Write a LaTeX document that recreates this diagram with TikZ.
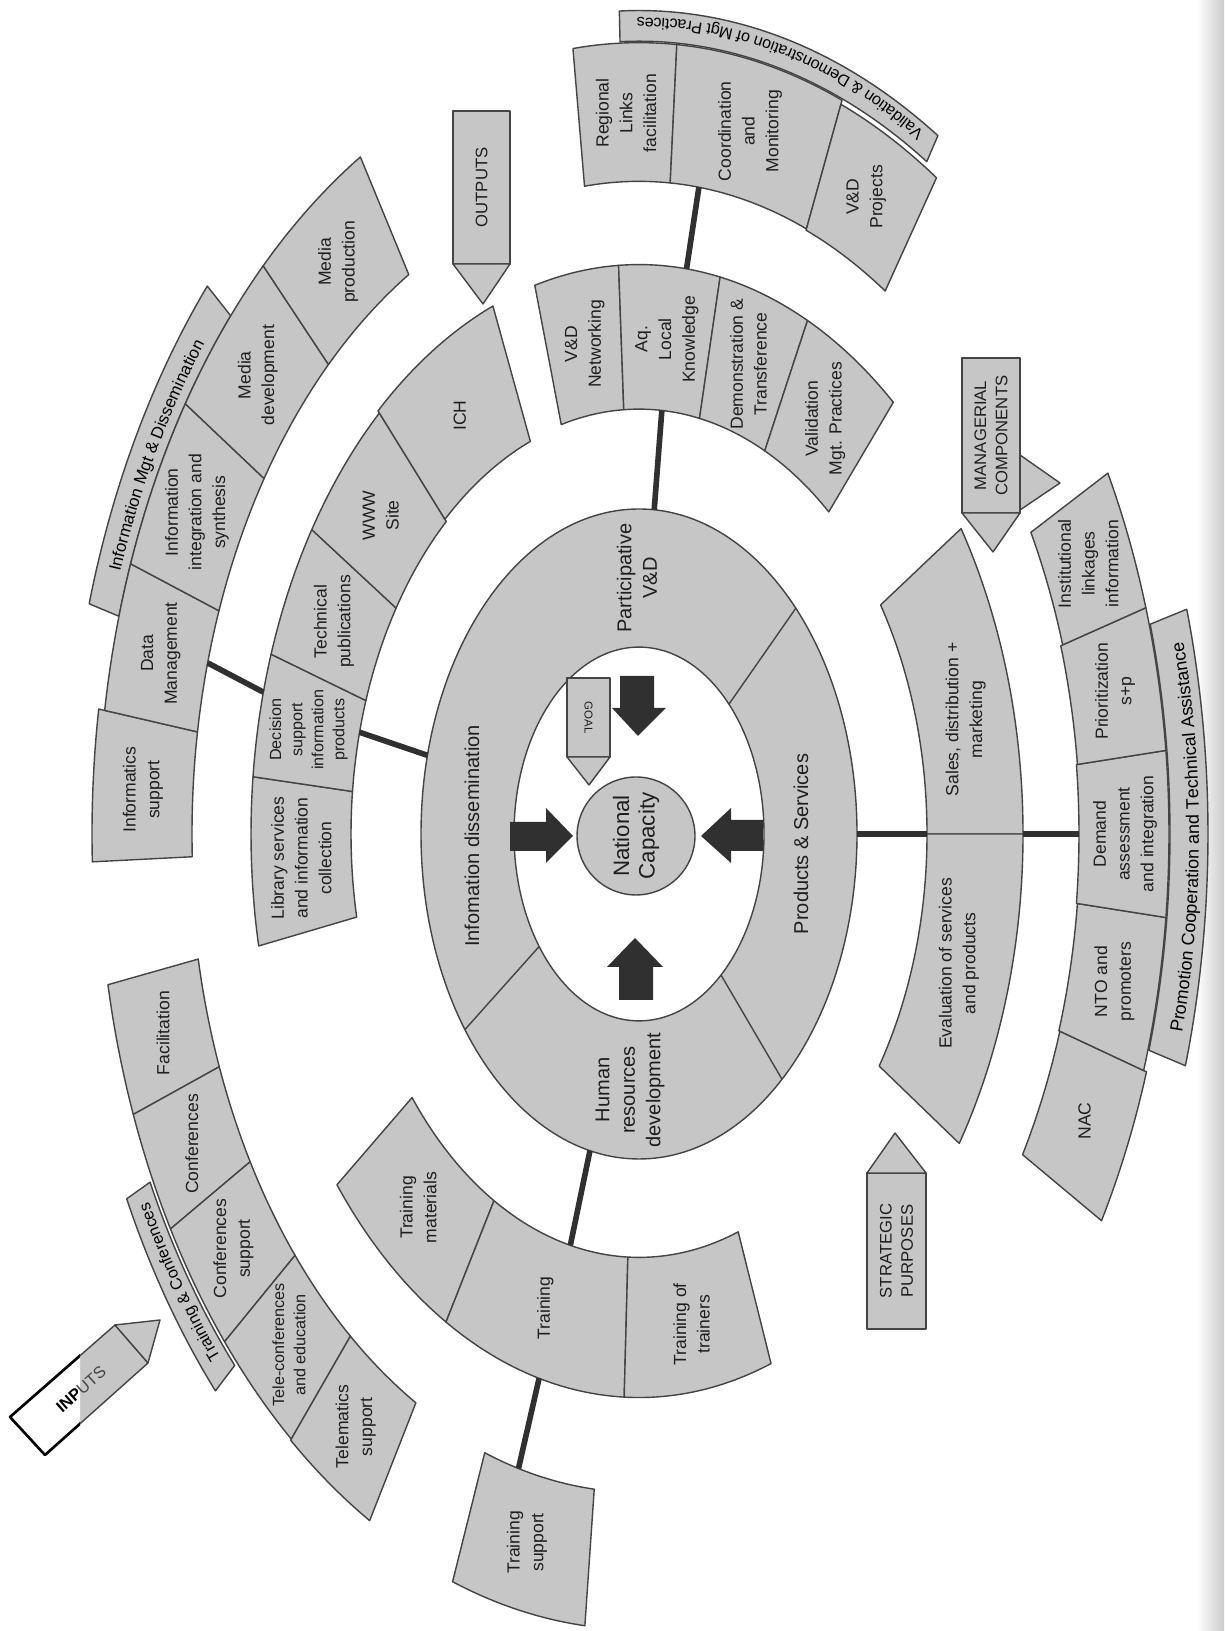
\documentclass[tikz,border=0pt]{standalone}
\usepackage{fontspec}
\setmainfont{Liberation Sans}
\usetikzlibrary{decorations.text}
\definecolor{boxfill}{HTML}{C6C6C6}
\definecolor{edgecol}{HTML}{444444}
\definecolor{darkcol}{HTML}{303030}
\definecolor{txtcol}{HTML}{1E1E1E}
\newcommand\annsector[4]{\draw[seg] (#1:#3) arc[start angle=#1,end angle=#2,radius=#3] -- (#2:#4) arc[start angle=#2,end angle=#1,radius=#4] -- cycle;}
\newcommand\striptext[5]{\path[decorate,decoration={text along path,text align=center,text={|\fontsize{#4}{#4}\selectfont|#5}}] ({639+#3*cos(#1)},{797+1.46*#3*sin(#1)}) arc[start angle=#1,end angle=#2,x radius=#3,y radius={1.46*#3}];}
\begin{document}
\begin{tikzpicture}[x=0.02cm,y=0.02cm,
  seg/.style={fill=boxfill,draw=edgecol,line width=0.8pt,line join=round},
  lbl/.style={rotate=90,align=center,text=txtcol,inner sep=0pt,font=\fontsize{10}{13.5}\selectfont},
  smalllbl/.style={font=\fontsize{9.2}{12}\selectfont},
  ringlbl/.style={rotate=90,align=center,text=txtcol,inner sep=0pt,font=\fontsize{11.4}{14.5}\selectfont},
  caplbl/.style={rotate=90,align=center,text=txtcol,inner sep=0pt,font=\fontsize{9.5}{12}\selectfont},
  link/.style={draw=darkcol,line width=3.2pt},
  blockarrow/.style={fill=darkcol}]
\useasboundingbox (0,0) rectangle (1224,1631);
\fill[white] (0,0) rectangle (1224,1631);
\shade[left color=white,right color=black!20] (1196,0) rectangle (1224,1631);

\begin{scope}[shift={(639,797)},yscale=1.46]
  % central ring
  \fill[boxfill,even odd rule] (0,0) ellipse[x radius=218,y radius=222.6] (0,0) ellipse[x radius=125,y radius=128];
  \draw[edgecol,line width=0.8pt] (0,0) ellipse[x radius=218,y radius=222.6] (0,0) ellipse[x radius=125,y radius=128];
  \foreach \ang in {217,311,44}{\draw[edgecol,line width=0.8pt] ({125*cos(\ang)},{128*sin(\ang)}) -- ({218*cos(\ang)},{222.6*sin(\ang)});}

  % label strips
  \annsector{139}{164}{541}{572}
  \annsector{58}{92}{543}{564}
  \annsector{206}{222}{544}{570}
  \annsector{-16.2}{15.7}{531}{569}

  % group A: information management
  \annsector{171}{182}{447}{547}
  \annsector{160}{171}{447}{541}
  \annsector{147}{160}{447}{541}
  \annsector{134}{147}{447}{541}
  \annsector{121}{134}{447}{541}
  \node[lbl] (infsup) at (176.5:497) {Informatics\\support};
  \node[lbl] (datamg) at (165.5:494) {Data\\Management};
  \node[lbl] (infint) at (153.5:494) {Information\\integration and\\synthesis};
  \node[lbl] (meddev) at (140.5:494) {Media\\development};
  \node[lbl] (medprod) at (127.5:494) {Media\\production};

  % group B: information dissemination
  \annsector{174.2}{191.4}{288}{388}
  \annsector{161.5}{174.2}{288}{388}
  \annsector{147.5}{161.5}{288}{388}
  \annsector{132}{147.5}{288}{388}
  \annsector{112}{132}{290}{390}
  \node[lbl] (library) at (182.8:338) {Library services\\and information\\collection};
  \node[lbl,smalllbl] (decision) at (167.8:338) {Decision\\support\\information\\products};
  \node[lbl] (techpub) at (154.5:338) {Technical\\publications};
  \node[lbl] (www) at (139.8:338) {WWW\\Site};
  \node[lbl] (ich) at (122:338) {ICH};

  % group C: participative V&D
  \annsector{93}{105.5}{291}{390}
  \annsector{78}{93}{291}{390}
  \annsector{64.4}{78}{291}{390}
  \annsector{49.3}{64.4}{291}{390}
  \node[lbl] (vdnet) at (99.2:340) {V\&D\\Networking};
  \node[lbl] (aqlocal) at (85.3:340) {Aq.\\Local\\Knowledge};
  \node[lbl] (demo) at (71.2:340) {Demonstration \&\\Transference};
  \node[lbl] (valid) at (56.8:340) {Validation\\Mgt. Practices};

  % group D
  \annsector{86}{97}{447}{542}
  \annsector{68}{86}{447}{542}
  \annsector{56.5}{68}{446}{539}
  \node[lbl] (regional) at (91.5:494) {Regional\\Links\\facilitation};
  \node[lbl] (coord) at (77:494) {Coordination\\and\\Monitoring};
  \node[lbl] (vdproj) at (62.5:492) {V\&D\\Projects};

  % group E: training & conferences
  \annsector{191}{200.8}{449}{541}
  \annsector{200.8}{210}{449}{541}
  \annsector{210}{220}{449}{541}
  \annsector{220}{230}{449}{541}
  \annsector{230}{240.2}{449}{542}
  \node[lbl] (facil) at (196:495) {Facilitation};
  \node[lbl] (conf) at (205.4:495) {Conferences};
  \node[lbl] (confsup) at (215:495) {Conferences\\support};
  \node[lbl,smalllbl] (telecon) at (225:495) {Tele-conferences\\and education};
  \node[lbl] (telemat) at (235.1:495) {Telematics\\support};

  % group F: products & services
  \annsector{0}{33}{288}{384}
  \annsector{-33.5}{0}{288}{384}
  \node[lbl] (sales) at (13.5:336) {Sales, distribution +\\marketing};
  \node[lbl] (evalsp) at (-15.5:332) {Evaluation of services\\and products};

  % group H: promotion
  \annsector{-29.8}{-17.8}{442}{533}
  \annsector{-17.8}{-6.2}{441}{530}
  \annsector{-6.2}{6.2}{440}{530}
  \annsector{6.2}{17}{441}{530}
  \annsector{17}{27.8}{443}{530}
  \node[lbl] (nac) at (-23.8:487) {NAC};
  \node[lbl] (nto) at (-12:486) {NTO and\\promoters};
  \node[lbl] (demand) at (0:486) {Demand\\assessment\\and integration};
  \node[lbl] (prior) at (11.6:486) {Prioritization\\s+p};
  \node[lbl] (instit) at (22.4:486) {Institutional\\linkages\\information};

  % group I: training
  \annsector{218.5}{240}{290}{386}
  \annsector{240}{267.8}{290}{386}
  \annsector{267.8}{290}{290}{386}
  \node[lbl] (trmat) at (229.2:338) {Training\\materials};
  \node[lbl] (training) at (253.9:338) {Training};
  \node[lbl] (trtrain) at (278.9:340) {Training of\\trainers};

  % group J
  \annsector{250}{264.3}{451}{545}
  \node[lbl] (trsup) at (257:498) {Training\\support};

  % connector end points
  \coordinate (rW) at ({218*cos(166)},{222.6*sin(166)});
  \coordinate (bIn) at (166:288);
  \coordinate (bOut) at (165.5:388);
  \coordinate (aIn) at (164.8:447);
  \coordinate (rN) at ({218*cos(86)},{222.6*sin(86)});
  \coordinate (cIn) at (85.5:291);
  \coordinate (cOut) at (83:390);
  \coordinate (dIn) at (82.3:447);
  \coordinate (rE) at (218,0);
  \coordinate (fIn) at (288,0);
  \coordinate (fOut) at (384,0);
  \coordinate (hIn) at (440,0);
  \coordinate (rS) at ({218*cos(257)},{222.6*sin(257)});
  \coordinate (iIn) at (256.3:290);
  \coordinate (iOut) at (255:386);
  \coordinate (jIn) at (254.5:451);
\end{scope}

% connectors
\draw[link] (rW) -- (bIn);
\draw[link] (bOut) -- (aIn);
\draw[link] (rN) -- (cIn);
\draw[link] (cOut) -- (dIn);
\draw[link] (rE) -- (fIn);
\draw[link] (fOut) -- (hIn);
\draw[link] (rS) -- (iIn);
\draw[link] (iOut) -- (jIn);

% strip texts
\striptext{163}{140}{549}{9.6}{Information Mgt {\&} Dissemination}
\striptext{56}{94}{559}{9.2}{Validation {\&} Demonstration of Mgt Practices}
\striptext{223}{205}{551}{9.3}{Training {\&} Conferences}
\striptext{-15.5}{15}{560}{10.2}{Promotion Cooperation and Technical Assistance}

% ring labels
\node[ringlbl] (infodis) at (472,795) {Infomation dissemination};
\node[ringlbl] (partvd) at (637,1053) {Participative\\V\&D};
\node[ringlbl] (prodserv) at (801,787) {Products \& Services};
\node[ringlbl] (hrd) at (630,541) {Human\\resources\\development};

% central circle
\node[circle,draw=edgecol,fill=boxfill,line width=0.8pt,minimum size=2.36cm,inner sep=0pt,align=center,rotate=90,text=txtcol,font=\fontsize{12.7}{14.5}\selectfont] (natcap) at (636,795) {National\\Capacity};

% block arrows toward the centre
\fill[blockarrow] (510,780) -- (546,780) -- (546,768) -- (573,795) -- (546,823) -- (546,809) -- (510,809) -- cycle;
\fill[blockarrow] (620,955) -- (654,955) -- (654,923) -- (666,923) -- (638,895) -- (612,923) -- (620,923) -- cycle;
\fill[blockarrow] (763,780) -- (731,780) -- (731,768) -- (701,795) -- (731,823) -- (731,811) -- (763,811) -- cycle;
\fill[blockarrow] (619,631) -- (653,631) -- (653,664) -- (663,664) -- (635,693) -- (607,664) -- (619,664) -- cycle;

% GOAL
\draw[seg] (567,874) rectangle (610,953);
\draw[seg] (567,874) -- (610,874) -- (589,846) -- cycle;
\node[rotate=-90,text=txtcol,font=\fontsize{6.5}{7}\selectfont] (goal) at (588.5,913.5) {GOAL};

% OUTPUTS
\draw[seg] (453,1367) rectangle (510,1520);
\draw[seg] (453,1367) -- (510,1367) -- (483,1327) -- cycle;
\node[caplbl] (outputs) at (481.5,1443.5) {OUTPUTS};

% MANAGERIAL COMPONENTS
\draw[seg] (1020,1176) -- (1060,1148) -- (1020,1121) -- cycle;
\draw[seg] (962,1118) rectangle (1020,1273);
\draw[seg] (962,1118) -- (1020,1118) -- (993,1079) -- cycle;
\node[caplbl] (manag) at (991,1195.5) {MANAGERIAL\\COMPONENTS};

% STRATEGIC PURPOSES
\draw[seg] (867,302) rectangle (926,458);
\draw[seg] (867,458) -- (926,458) -- (895,498) -- cycle;
\node[caplbl] (strat) at (896.5,380) {STRATEGIC\\PURPOSES};

% INPUTS
\draw[seg] (10,214) -- (45,176) -- (148,268) -- (115,306) -- cycle;
\draw[seg] (115,306) -- (160,311) -- (148,268) -- cycle;
\begin{scope}
  \clip (0,0) rectangle (80,1320);
  \draw[fill=white,draw=black,line width=1.5pt,line join=round] (10,214) -- (45,176) -- (148,268) -- (115,306) -- cycle;
\end{scope}
\node[rotate=41.5,font=\fontsize{9.3}{11}\selectfont] (inputs) at (81,242) {\textbf{INP}\textcolor{edgecol}{UTS}};
\end{tikzpicture}
\end{document}
